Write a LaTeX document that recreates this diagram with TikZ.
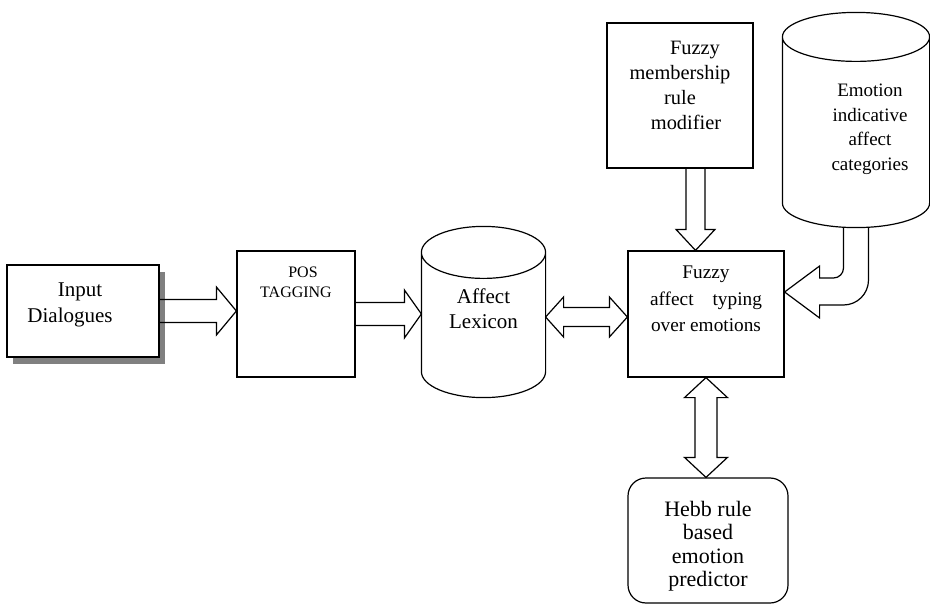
\documentclass[tikz,border=0pt]{standalone}
\usepackage{fontspec}
\setmainfont{Liberation Serif}
\usetikzlibrary{calc,shadows}

% hollow block arrow: start, tip, shaft half width, head half width, head length
\newcommand\fatarrow[5]{%
  \coordinate (fa-h) at ($(#2)!#5!(#1)$);
  \draw ($(#1)!#3!90:(#2)$) -- ($(fa-h)!#3!-90:(#1)$) -- ($(fa-h)!#4!-90:(#1)$)
    -- (#2) -- ($(fa-h)!#4!90:(#1)$) -- ($(fa-h)!#3!90:(#1)$) -- ($(#1)!#3!-90:(#2)$);}
% same with a head at both ends
\newcommand\fatboth[5]{%
  \coordinate (fa-a) at ($(#1)!#5!(#2)$);
  \coordinate (fa-b) at ($(#2)!#5!(#1)$);
  \draw (#1) -- ($(fa-a)!#4!90:(#2)$) -- ($(fa-a)!#3!90:(#2)$) -- ($(fa-b)!#3!-90:(#1)$)
    -- ($(fa-b)!#4!-90:(#1)$) -- (#2) -- ($(fa-b)!#4!90:(#1)$) -- ($(fa-b)!#3!90:(#1)$)
    -- ($(fa-a)!#3!-90:(#2)$) -- ($(fa-a)!#4!-90:(#2)$) -- cycle;}
% cylinder outline round a node
\newcommand\can[2]{%
  \draw let \p1=(#1.north west), \p2=(#1.south east), \n1={(\x2-\x1)/2} in
    (\x1,\y1-#2) arc[start angle=180,end angle=-180,x radius=\n1,y radius=#2]
    (\x1,\y1-#2) -- (\x1,\y2+#2) arc[start angle=180,end angle=360,x radius=\n1,y radius=#2]
    -- (\x2,\y1-#2);}

\begin{document}
\begin{tikzpicture}[x=1pt,y=1pt,line width=1.2pt,
  box/.style={draw,inner sep=0pt},
  txt/.style={align=center,font=\fontsize{19.5}{24.5}\selectfont}]
\useasboundingbox (0,0) rectangle (930,-610);

\node[box,fill=white,minimum width=152pt,minimum height=92pt,
  drop shadow={shadow xshift=6pt,shadow yshift=-7pt,fill=gray,opacity=1},
  label={[txt,font=\fontsize{21}{26}\selectfont,xshift=-13,yshift=6]center:{\hspace*{20pt}Input\\Dialogues}}] (in) at (83,-311) {};
\node[box,minimum width=118pt,minimum height=126pt,
  label={[txt,font=\fontsize{16}{20}\selectfont,yshift=31.5]center:{\hspace*{14pt}POS\\TAGGING}}] (pos) at (296,-314) {};
\node[minimum width=123pt,minimum height=170pt,
  label={[txt,font=\fontsize{21}{25}\selectfont,yshift=3.5]center:{Affect\\Lexicon}}] (aff) at (483.5,-312) {};
\can{aff}{26pt}
\node[box,minimum width=146pt,minimum height=145pt,
  label={[txt,font=\fontsize{20.4}{25}\selectfont,yshift=10.5]center:{\hspace*{30pt}Fuzzy\\membership\\rule\\\hspace*{12pt}modifier}}] (memb) at (680,-95.5) {};
\node[minimum width=146pt,minimum height=214pt,
  label={[txt,font=\fontsize{19}{24.5}\selectfont,xshift=14,yshift=-9.5]center:{Emotion\\indicative\\affect\\categories}}] (emo) at (856,-120) {};
\can{emo}{24.5pt}
\node[box,minimum width=156pt,minimum height=126pt,
  label={[txt,font=\fontsize{19.3}{26.5}\selectfont,yshift=15]center:{Fuzzy\\affect\hspace{19pt}typing\\over emotions}}] (fz) at (706,-314) {};
\node[box,rounded corners=18pt,minimum width=160pt,minimum height=125pt,
  label={[txt,font=\fontsize{22}{23.5}\selectfont,yshift=-5.5]center:{Hebb rule\\based\\emotion\\predictor}}] (hebb) at (708,-540.5) {};

\fatarrow{in.east}{pos.west|-in.east}{11.5pt}{24pt}{20pt}
\fatarrow{pos.east}{aff.west|-pos.east}{11.5pt}{24pt}{17pt}
\coordinate (fzw) at ([yshift=-3pt]fz.west);
\fatboth{aff.east|-fzw}{fzw}{9.5pt}{20pt}{18pt}
\coordinate (ms) at ([xshift=15.5pt]memb.south);
\fatarrow{ms}{ms|-fz.north}{9.5pt}{19.5pt}{21pt}
\fatboth{fz.south}{fz.south|-hebb.north}{11pt}{21.5pt}{20pt}
% bent arrow from the category store
\coordinate (ct) at ([yshift=22pt]fz.east);
\draw let \p1=(emo.south), \p2=(ct) in
  (\x1-12.5pt,\y1) -- (\x1-12.5pt,\y2+24pt) arc[start angle=0,end angle=-90,radius=10pt]
  -- (\x2+35pt,\y2+14pt) -- (\x2+35pt,\y2+26pt) -- (\x2,\y2) -- (\x2+35pt,\y2-26pt)
  -- (\x2+35pt,\y2-13pt) -- (\x1-12.5pt,\y2-13pt) arc[start angle=-90,end angle=0,radius=25pt]
  -- (\x1+12.5pt,\y1);
\end{tikzpicture}
\end{document}
